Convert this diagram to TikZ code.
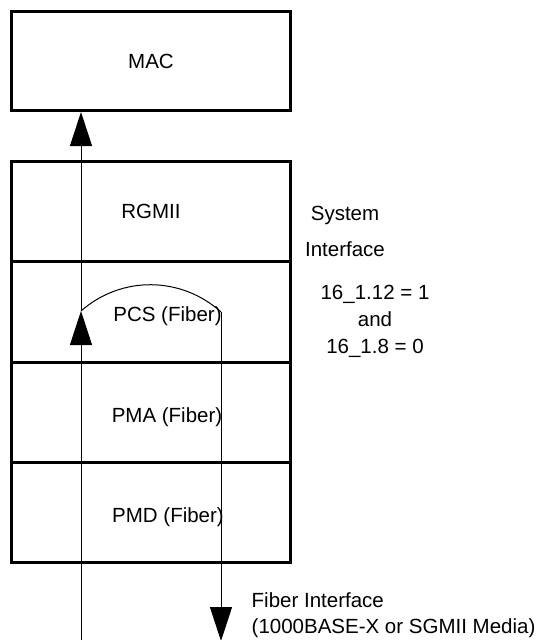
\documentclass[tikz,border=0pt]{standalone}
\usepackage{fontspec}
\setmainfont{Liberation Sans}
\usetikzlibrary{arrows.meta}
\begin{document}
\begin{tikzpicture}[x=1pt,y=-1pt,every node/.style={font=\fontsize{20.5}{26}\selectfont,inner sep=0pt},layer/.style={draw,line width=2.9pt,minimum width=279.1pt,minimum height=100.3pt},sig/.style={line width=1pt},head/.style={-{Triangle[length=34pt,width=22pt]}}]
\useasboundingbox(0,0)rectangle(544,640);
\node[layer,minimum height=99.1pt](mac)at(151,61){MAC};
\node[layer](rgmii)at(151,211.5){RGMII};\node[layer](pcs)at(151,311.8){};\node[layer](pma)at(151,412.2){};\node[layer](pmd)at(151,512.5){};
\node[anchor=base](lpcs)at(167.5,321.7){PCS (Fiber)};\node[anchor=base](lpma)at(167,422){PMA (Fiber)};\node[anchor=base](lpmd)at(168,522.5){PMD (Fiber)};
\node[anchor=base,align=center,font=\fontsize{20.5}{36}\selectfont](sys)at(345,256){System\\Interface};
\node[anchor=base,align=center,font=\fontsize{20.5}{27}\selectfont](cfg)at(375,353.3){16\_1.12 = 1\\and\\16\_1.8 = 0};
\node[anchor=base west,align=left](fib)at(251.5,633){Fiber Interface\\(1000BASE-X or SGMII Media)};
\coordinate(inb)at(81,640);\coordinate(turn)at(81,311);\coordinate(back)at(221,312);\coordinate(outb)at(221,641);
\draw[sig,head](inb)--(turn);\draw[sig,head](turn)--(mac.south-|turn);
\draw[sig](turn)..controls(121.6,275.3)and(181.4,276.3)..(back);
\draw[sig,head](back)--(outb);
\end{tikzpicture}
\end{document}
